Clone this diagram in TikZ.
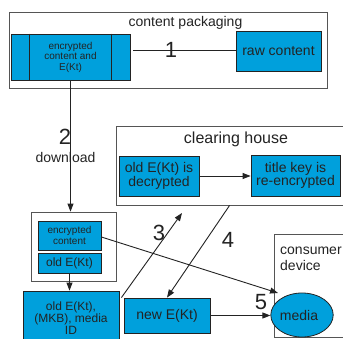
\documentclass[tikz,border=0pt]{standalone}
\usepackage{fontspec}
\setmainfont{Liberation Sans}
\usetikzlibrary{arrows.meta,calc,shapes.geometric}
\definecolor{boxblue}{RGB}{0,160,220}
\definecolor{ink}{RGB}{35,35,35}
\definecolor{framec}{RGB}{85,85,85}
\begin{document}
\begin{tikzpicture}[x=1pt,y=-1pt,
  bluebox/.style={draw=ink, fill=boxblue, line width=0.8pt, inner sep=0pt, text=ink, align=center},
  frm/.style={draw=framec, line width=0.8pt, inner sep=0pt},
  conn/.style={draw=ink, line width=0.9pt},
  arr/.style={conn, -{Triangle[length=8pt,width=6pt]}},
  num/.style={font=\fontsize{22}{22}\selectfont, text=ink, inner sep=0pt},
  lbl/.style={font=\fontsize{14}{13.5}\selectfont, text=ink, inner sep=0pt},
]
\useasboundingbox (0,0) rectangle (343,339);
\fill[white] (0,0) rectangle (343,339);

% frames
\node[frm, minimum width=318pt, minimum height=76pt] (cp) at (168,50) {};
\node[frm, minimum width=244pt, minimum height=79pt] (ch) at (238,165.5) {};
\node[frm, minimum width=86pt, minimum height=103pt] (cd) at (317,285.5) {};
\node[frm, minimum width=85pt, minimum height=69pt] (grp) at (73.5,246.5) {};

% titles
\node[lbl, anchor=base] (cpt) at (185.5,27) {content packaging};
\node[font=\fontsize{16}{16}\selectfont, text=ink, inner sep=0pt, anchor=base] (cht) at (236,144) {clearing house};
\node[lbl, anchor=base west] (cd1) at (280,255) {consumer};
\node[lbl, anchor=base west] (cd2) at (280,271) {device};

% content packaging boxes
\node[bluebox, minimum width=119pt, minimum height=46pt, font=\fontsize{10}{10.5}\selectfont] (enc) at (70.5,57) {encrypted\\content and\\E(Kt)};
\draw[ink, line width=0.8pt] ($(enc.north west)+(19,0)$) -- ($(enc.south west)+(19,0)$);
\draw[ink, line width=0.8pt] ($(enc.north east)+(-19,0)$) -- ($(enc.south east)+(-19,0)$);
\node[bluebox, lbl, minimum width=85pt, minimum height=40pt] (raw) at (278.5,51) {raw content};

% clearing house boxes
\node[bluebox, lbl, minimum width=80pt, minimum height=40pt] (olddec) at (159,176) {old E(Kt) is\\decrypted};
\node[bluebox, lbl, minimum width=89pt, minimum height=41pt] (tk) at (295.5,175.5) {title key is\\re-encrypted};

% lower boxes
\node[bluebox, minimum width=63pt, minimum height=29pt, font=\fontsize{10}{10.5}\selectfont] (encc) at (69.5,235.5) {encrypted\\content};
\node[bluebox, minimum width=63pt, minimum height=20pt, font=\fontsize{12}{12}\selectfont] (oldk) at (69.5,263) {old E(Kt)};
\node[bluebox, minimum width=96pt, minimum height=54pt, font=\fontsize{12}{12}\selectfont] (big) at (71,318) {old E(Kt),\\(MKB), media\\ID};
\node[bluebox, lbl, minimum width=86pt, minimum height=35pt] (newk) at (167,315.5) {new E(Kt)};
\node[bluebox, lbl, ellipse, minimum width=48pt, minimum height=44pt] (media) at (302,315) {media\hspace{6pt}};

% connectors
\coordinate (l1a) at ($(enc.east)+(3,-7)$);
\draw[conn] (l1a) -- (l1a -| raw.west);
\draw[arr] (enc.south) -- (enc.south |- grp.north);
\draw[arr] (olddec.east) -- (olddec.east -| tk.west);
\draw[arr] (oldk.south) -- (oldk.south |- big.north);
\coordinate (t3) at (182,213);
\draw[arr] ($(big.north east)+(2,7)$) -- (t3);
\coordinate (s4) at ($(ch.south west)+(114,0)$);
\draw[arr] (s4) -- (newk.north);
\coordinate (t6) at ($(media.center)+(-24,-22)$);
\draw[arr] ($(encc.east)+(0,1.5)$) -- (t6);
\draw[arr] (newk.east) -- (newk.east -| media.west);

% numbers and labels
\node[num] (n1) at (171,50) {1};
\node[num] (n2) at (65,137) {2};
\node[lbl] (dl) at (65.5,157) {download};
\node[num] (n3) at (159,233) {3};
\node[num] (n4) at (228,240) {4};
\node[num] (n5) at (261,302) {5};
\end{tikzpicture}
\end{document}
